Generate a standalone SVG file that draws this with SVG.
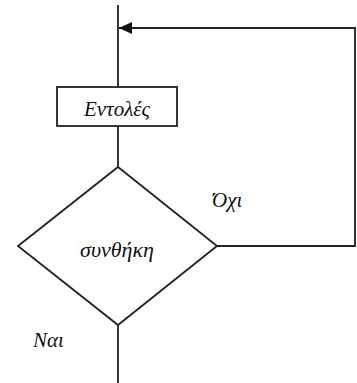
<svg xmlns="http://www.w3.org/2000/svg" width="357" height="383" viewBox="0 0 357 383">
<style>
.ln{fill:none;stroke:#222;stroke-width:1.8}
.sh{fill:#fff;stroke:#222;stroke-width:1.8}
.t{font-family:"Liberation Serif",serif;font-style:italic;font-size:21px;fill:#111}
</style>
<defs>
<marker id="arr" viewBox="0 0 13 12" refX="13" refY="6" markerWidth="13" markerHeight="12" markerUnits="userSpaceOnUse" orient="auto">
<path d="M0,0 L13,6 L0,12 Z" fill="#111"/>
</marker>
</defs>
<g id="connectors">
<line class="ln" x1="118" y1="5" x2="118" y2="87"/>
<line class="ln" x1="118" y1="126" x2="118" y2="167"/>
<line class="ln" x1="118" y1="325" x2="118" y2="383"/>
<polyline class="ln" points="217,246 355,246 355,28 119,28" marker-end="url(#arr)"/>
<text class="t" x="212" y="207">Όχι</text>
<text class="t" x="33" y="347">Ναι</text>
</g>
<g id="node-entoles">
<rect class="sh" x="57" y="87" width="120" height="39"/>
<text class="t" x="117" y="116" text-anchor="middle">Εντολές</text>
</g>
<g id="node-synthiki">
<polygon class="sh" points="118,167 217,246 118,325 18,246"/>
<text class="t" x="117" y="257" text-anchor="middle" style="font-size:22px">συνθήκη</text>
</g>
</svg>
